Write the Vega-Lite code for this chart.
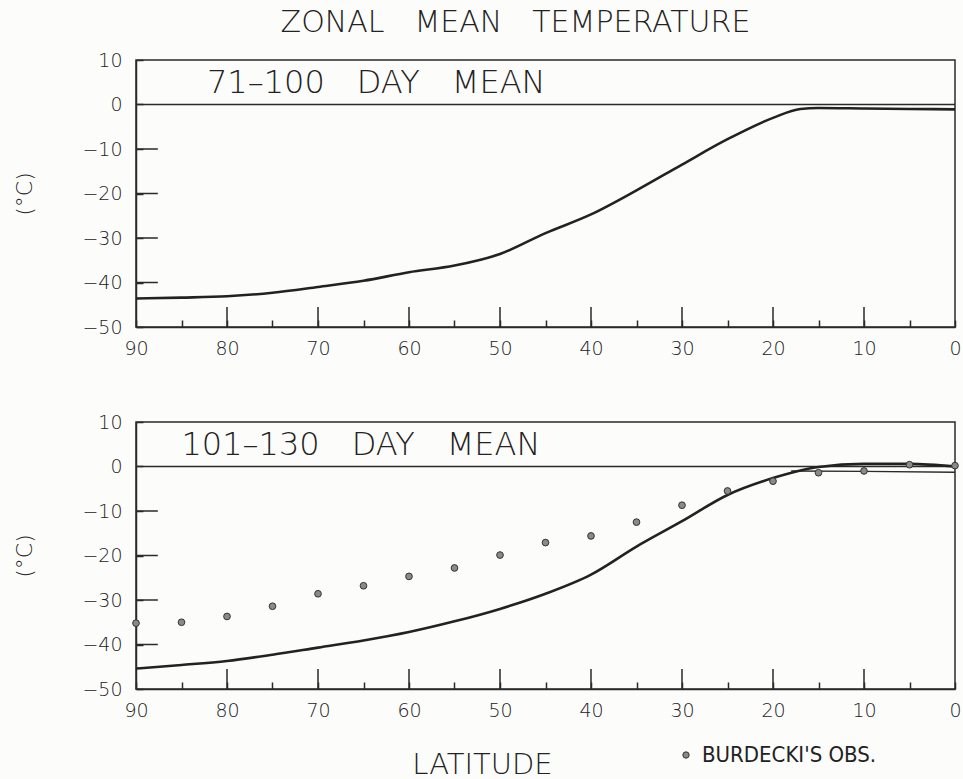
{
  "$schema": "https://vega.github.io/schema/vega-lite/v6.json",
  "background": "#fcfcfb",
  "padding": {"left": 13, "top": 8, "right": 8, "bottom": 2},
  "title": {
    "text": "ZONAL\u2003MEAN\u2003TEMPERATURE",
    "fontSize": 30,
    "font": "DejaVu Sans",
    "fontWeight": 200,
    "color": "#222222",
    "anchor": "middle",
    "dx": 28,
    "offset": 12
  },
  "datasets": {
    "run71": [
      {"lat": 90, "t": -43.6}, {"lat": 85, "t": -43.4}, {"lat": 80, "t": -43.1},
      {"lat": 75, "t": -42.3}, {"lat": 70, "t": -41.0}, {"lat": 65, "t": -39.6},
      {"lat": 60, "t": -37.7}, {"lat": 55, "t": -36.2}, {"lat": 50, "t": -33.6},
      {"lat": 45, "t": -28.9}, {"lat": 40, "t": -24.7}, {"lat": 35, "t": -19.3},
      {"lat": 30, "t": -13.5}, {"lat": 25, "t": -7.8}, {"lat": 20, "t": -3.0},
      {"lat": 17, "t": -1.0}, {"lat": 15, "t": -0.8}, {"lat": 10, "t": -0.9},
      {"lat": 5, "t": -1.0}, {"lat": 0, "t": -1.1}
    ],
    "run101": [
      {"lat": 90, "t": -45.4}, {"lat": 85, "t": -44.6}, {"lat": 80, "t": -43.7},
      {"lat": 75, "t": -42.3}, {"lat": 70, "t": -40.7}, {"lat": 65, "t": -39.1},
      {"lat": 60, "t": -37.2}, {"lat": 55, "t": -34.8}, {"lat": 50, "t": -32.0},
      {"lat": 45, "t": -28.6}, {"lat": 40, "t": -24.3}, {"lat": 35, "t": -18.0},
      {"lat": 30, "t": -12.3}, {"lat": 25, "t": -6.4}, {"lat": 20, "t": -2.6},
      {"lat": 17, "t": -0.9}, {"lat": 15, "t": -0.1}, {"lat": 10, "t": 0.6},
      {"lat": 5, "t": 0.6}, {"lat": 0, "t": 0.0}
    ],
    "tail101": [
      {"lat": 18, "t": -1.0}, {"lat": 10, "t": -1.1}, {"lat": 0, "t": -1.3}
    ],
    "burdecki": [
      {"lat": 90, "t": -35.2, "src": "BURDECKI'S OBS."},
      {"lat": 85, "t": -35.0, "src": "BURDECKI'S OBS."},
      {"lat": 80, "t": -33.7, "src": "BURDECKI'S OBS."},
      {"lat": 75, "t": -31.4, "src": "BURDECKI'S OBS."},
      {"lat": 70, "t": -28.6, "src": "BURDECKI'S OBS."},
      {"lat": 65, "t": -26.8, "src": "BURDECKI'S OBS."},
      {"lat": 60, "t": -24.7, "src": "BURDECKI'S OBS."},
      {"lat": 55, "t": -22.8, "src": "BURDECKI'S OBS."},
      {"lat": 50, "t": -19.9, "src": "BURDECKI'S OBS."},
      {"lat": 45, "t": -17.1, "src": "BURDECKI'S OBS."},
      {"lat": 40, "t": -15.6, "src": "BURDECKI'S OBS."},
      {"lat": 35, "t": -12.5, "src": "BURDECKI'S OBS."},
      {"lat": 30, "t": -8.7, "src": "BURDECKI'S OBS."},
      {"lat": 25, "t": -5.5, "src": "BURDECKI'S OBS."},
      {"lat": 20, "t": -3.3, "src": "BURDECKI'S OBS."},
      {"lat": 15, "t": -1.4, "src": "BURDECKI'S OBS."},
      {"lat": 10, "t": -1.0, "src": "BURDECKI'S OBS."},
      {"lat": 5, "t": 0.4, "src": "BURDECKI'S OBS."},
      {"lat": 0, "t": 0.2, "src": "BURDECKI'S OBS."}
    ],
    "zero": [{"t": 0}],
    "majorLat": [{"lat": 80}, {"lat": 70}, {"lat": 60}, {"lat": 50}, {"lat": 40}, {"lat": 30}, {"lat": 20}, {"lat": 10}],
    "majorT": [{"t": -40}, {"t": -30}, {"t": -20}, {"t": -10}],
    "label71": [{"lat": 82.2, "t": 4.9, "txt": "71\u2013100\u2003DAY\u2003MEAN"}],
    "label101": [{"lat": 85.0, "t": 4.9, "txt": "101\u2013130\u2003DAY\u2003MEAN"}]
  },
  "vconcat": [
    {
      "width": 819,
      "height": 267,
      "layer": [
        {
          "data": {"name": "zero"},
          "mark": {"type": "rule", "color": "#2a2a2a", "strokeWidth": 1.5},
          "encoding": {"y": {"field": "t", "type": "quantitative", "scale": {"domain": [-50, 10], "nice": false}}}
        },
        {
          "data": {"name": "majorLat"},
          "mark": {"type": "rule", "color": "#2a2a2a", "strokeWidth": 1.5},
          "encoding": {
            "x": {"field": "lat", "type": "quantitative"},
            "y": {"datum": -50},
            "y2": {"datum": -45.5}
          }
        },
        {
          "data": {"name": "majorT"},
          "mark": {"type": "rule", "color": "#2a2a2a", "strokeWidth": 1.5},
          "encoding": {
            "y": {"field": "t", "type": "quantitative"},
            "x": {"datum": 90},
            "x2": {"datum": 87.6}
          }
        },
        {
          "data": {"name": "run71"},
          "mark": {"type": "line", "interpolate": "monotone", "color": "#222222", "strokeWidth": 2.6},
          "encoding": {
            "x": {
              "field": "lat", "type": "quantitative", "title": null,
              "scale": {"domain": [0, 90], "reverse": true, "nice": false},
              "axis": {
                "values": [90, 85, 80, 75, 70, 65, 60, 55, 50, 45, 40, 35, 30, 25, 20, 15, 10, 5, 0],
                "labelExpr": "datum.value % 10 === 0 ? datum.label : ''",
                "tickSize": -7,
                "labelFlush": false,
                "labelPadding": 19
              }
            },
            "y": {
              "field": "t", "type": "quantitative", "title": "(°C)",
              "scale": {"domain": [-50, 10], "nice": false},
              "axis": {
                "values": [-50, -45, -40, -35, -30, -25, -20, -15, -10, -5, 0, 5, 10],
                "labelExpr": "datum.value % 10 === 0 ? datum.label : ''",
                "tickSize": -7,
                "labelFlush": false,
                "labelPadding": 21,
                "titlePadding": 45
              }
            }
          }
        },
        {
          "data": {"name": "label71"},
          "mark": {"type": "text", "align": "left", "baseline": "middle", "fontSize": 32, "font": "DejaVu Sans", "fontWeight": 200, "color": "#222222"},
          "encoding": {
            "x": {"field": "lat", "type": "quantitative"},
            "y": {"field": "t", "type": "quantitative"},
            "text": {"field": "txt"}
          }
        }
      ]
    },
    {
      "width": 819,
      "height": 267,
      "layer": [
        {
          "data": {"name": "zero"},
          "mark": {"type": "rule", "color": "#2a2a2a", "strokeWidth": 1.5},
          "encoding": {"y": {"field": "t", "type": "quantitative", "scale": {"domain": [-50, 10], "nice": false}}}
        },
        {
          "data": {"name": "majorLat"},
          "mark": {"type": "rule", "color": "#2a2a2a", "strokeWidth": 1.5},
          "encoding": {
            "x": {"field": "lat", "type": "quantitative"},
            "y": {"datum": -50},
            "y2": {"datum": -45.5}
          }
        },
        {
          "data": {"name": "majorT"},
          "mark": {"type": "rule", "color": "#2a2a2a", "strokeWidth": 1.5},
          "encoding": {
            "y": {"field": "t", "type": "quantitative"},
            "x": {"datum": 90},
            "x2": {"datum": 87.6}
          }
        },
        {
          "data": {"name": "tail101"},
          "mark": {"type": "line", "color": "#2a2a2a", "strokeWidth": 1.4},
          "encoding": {
            "x": {"field": "lat", "type": "quantitative"},
            "y": {"field": "t", "type": "quantitative"}
          }
        },
        {
          "data": {"name": "run101"},
          "mark": {"type": "line", "interpolate": "monotone", "color": "#222222", "strokeWidth": 2.6},
          "encoding": {
            "x": {
              "field": "lat", "type": "quantitative", "title": "LATITUDE",
              "scale": {"domain": [0, 90], "reverse": true, "nice": false},
              "axis": {
                "values": [90, 85, 80, 75, 70, 65, 60, 55, 50, 45, 40, 35, 30, 25, 20, 15, 10, 5, 0],
                "labelExpr": "datum.value % 10 === 0 ? datum.label : ''",
                "tickSize": -7,
                "labelFlush": false,
                "labelPadding": 19,
                "titleFontSize": 29,
                "titlePadding": 30,
                "titleX": 346
              }
            },
            "y": {
              "field": "t", "type": "quantitative", "title": "(°C)",
              "scale": {"domain": [-50, 10], "nice": false},
              "axis": {
                "values": [-50, -45, -40, -35, -30, -25, -20, -15, -10, -5, 0, 5, 10],
                "labelExpr": "datum.value % 10 === 0 ? datum.label : ''",
                "tickSize": -7,
                "labelFlush": false,
                "labelPadding": 21,
                "titlePadding": 45
              }
            }
          }
        },
        {
          "data": {"name": "burdecki"},
          "mark": {"type": "point", "filled": true, "size": 45, "stroke": "#333333", "strokeWidth": 1, "opacity": 1},
          "encoding": {
            "x": {"field": "lat", "type": "quantitative"},
            "y": {"field": "t", "type": "quantitative"},
            "color": {
              "field": "src", "type": "nominal",
              "scale": {"range": ["#8a8a8a"]},
              "legend": {
                "title": null, "orient": "none", "legendX": 539, "legendY": 684,
                "labelFontSize": 22, "labelFont": "DejaVu Sans Condensed", "labelColor": "#222222",
                "labelLimit": 400,
                "symbolSize": 40, "symbolStrokeColor": "#333333", "symbolStrokeWidth": 1, "labelOffset": 5
              }
            }
          }
        },
        {
          "data": {"name": "label101"},
          "mark": {"type": "text", "align": "left", "baseline": "middle", "fontSize": 32, "font": "DejaVu Sans", "fontWeight": 200, "color": "#222222"},
          "encoding": {
            "x": {"field": "lat", "type": "quantitative"},
            "y": {"field": "t", "type": "quantitative"},
            "text": {"field": "txt"}
          }
        }
      ]
    }
  ],
  "spacing": 53,
  "config": {
    "view": {"stroke": "#2a2a2a", "strokeWidth": 1.5},
    "font": "DejaVu Sans",
    "axis": {
      "grid": false,
      "domainColor": "#2a2a2a",
      "domainWidth": 1.5,
      "tickColor": "#2a2a2a",
      "tickWidth": 1.5,
      "labelColor": "#222222",
      "labelFont": "DejaVu Sans",
      "labelFontWeight": 200,
      "labelFontSize": 19,
      "titleFont": "DejaVu Sans",
      "titleFontWeight": 200,
      "titleFontSize": 22,
      "titleColor": "#222222"
    }
  }
}
